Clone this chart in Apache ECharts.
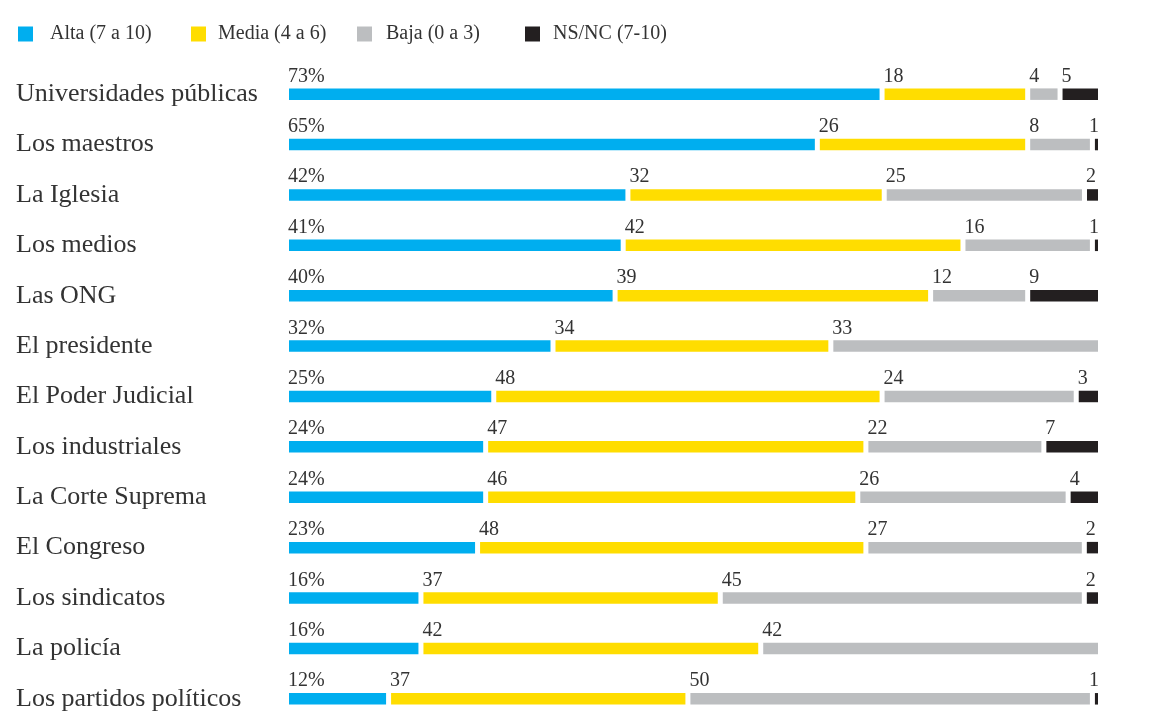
<!DOCTYPE html>
<html>
<head>
<meta charset="utf-8">
<script src="https://cdn.jsdelivr.net/npm/echarts@6/dist/echarts.min.js"></script>
<style>
html,body{margin:0;padding:0;background:#fff;}
#chart{width:1161px;height:724px;}
</style>
</head>
<body>
<div id="chart"></div>
<script>
var categories = ['Universidades públicas','Los maestros','La Iglesia','Los medios','Las ONG','El presidente','El Poder Judicial','Los industriales','La Corte Suprema','El Congreso','Los sindicatos','La policía','Los partidos políticos'];
var alta  = [73,65,42,41,40,32,25,24,24,23,16,16,12];
var media = [18,26,32,42,39,34,48,47,46,48,37,42,37];
var baja  = [4,8,25,16,12,33,24,22,26,27,45,42,50];
var nsnc  = [5,1,2,1,9,0,3,7,4,2,2,0,1];
var seriesNames = ['Alta (7 a 10)','Media (4 a 6)','Baja (0 a 3)','NS/NC (7-10)'];
var colors = ['#00AEEF','#FFDD00','#BCBEC0','#231F20'];

var FONT = 'Liberation Serif';
var TEXT = '#333333';
var GAP = 5;
var BAR_H = 11.5;

var all = [alta, media, baja, nsnc];
function buildData(k){
  var out = [];
  for (var r = 0; r < categories.length; r++){
    var total = alta[r]+media[r]+baja[r]+nsnc[r];
    var cum = 0;
    for (var j = 0; j < k; j++) cum += all[j][r];
    var v = all[k][r];
    if (!v) continue;
    out.push([cum*100/total, (cum+v)*100/total, r, v, k]);
  }
  return out;
}

function renderItem(params, api){
  var s = api.value(0), e = api.value(1), row = api.value(2), v = api.value(3), k = api.value(4);
  var p0 = api.coord([s, row]);
  var p1 = api.coord([e, row]);
  var x0 = p0[0] + (k === 0 ? 0 : GAP);
  var w = Math.max(p1[0] - x0, 0);
  var y = p0[1] - BAR_H/2;
  var narrow = w < 6;
  return {
    type: 'group',
    children: [
      { type:'rect', shape:{x:x0, y:y, width:w, height:BAR_H}, style:{fill: colors[k]} },
      { type:'text', style:{
          text: k === 0 ? (v + '%') : String(v),
          x: narrow ? p1[0] + 1 : x0 - 1, y: y - 12,
          textAlign: narrow ? 'right' : 'left', textVerticalAlign: 'middle',
          font: '20px "' + FONT + '"', fill: TEXT } }
    ]
  };
}

var series = seriesNames.map(function(n, k){
  return {
    type: 'custom', name: n, renderItem: renderItem,
    itemStyle: {color: colors[k]},
    encode: {x: [0,1], y: 2},
    data: buildData(k)
  };
});

var legendLefts = [18, 191, 357, 525];
var legendPad = [12, 7, 9, 8];
var legends = seriesNames.map(function(n, k){
  return {
    data: [n], left: legendLefts[k], top: 24, padding: 0, icon: 'rect',
    itemWidth: 15, itemHeight: 15,
    textStyle: {fontFamily: FONT, fontSize: 20, color: TEXT, padding: [0,0,0,legendPad[k]]}
  };
});

var chart = echarts.init(document.getElementById('chart'), null, {renderer:'canvas'});
chart.setOption({
  animation: false,
  backgroundColor: '#ffffff',
  legend: legends,
  grid: {left: 289, right: 63, top: 68.96, height: 670.6, containLabel: false},
  xAxis: {type: 'value', min: 0, max: 100, show: false},
  yAxis: {
    type: 'category', data: categories, inverse: true,
    axisLine: {show:false}, axisTick: {show:false}, splitLine: {show:false},
    axisLabel: {align: 'left', margin: 273, fontFamily: FONT, fontSize: 26, color: TEXT, padding: [2,0,0,0]}
  },
  series: series
});
</script>
</body>
</html>
